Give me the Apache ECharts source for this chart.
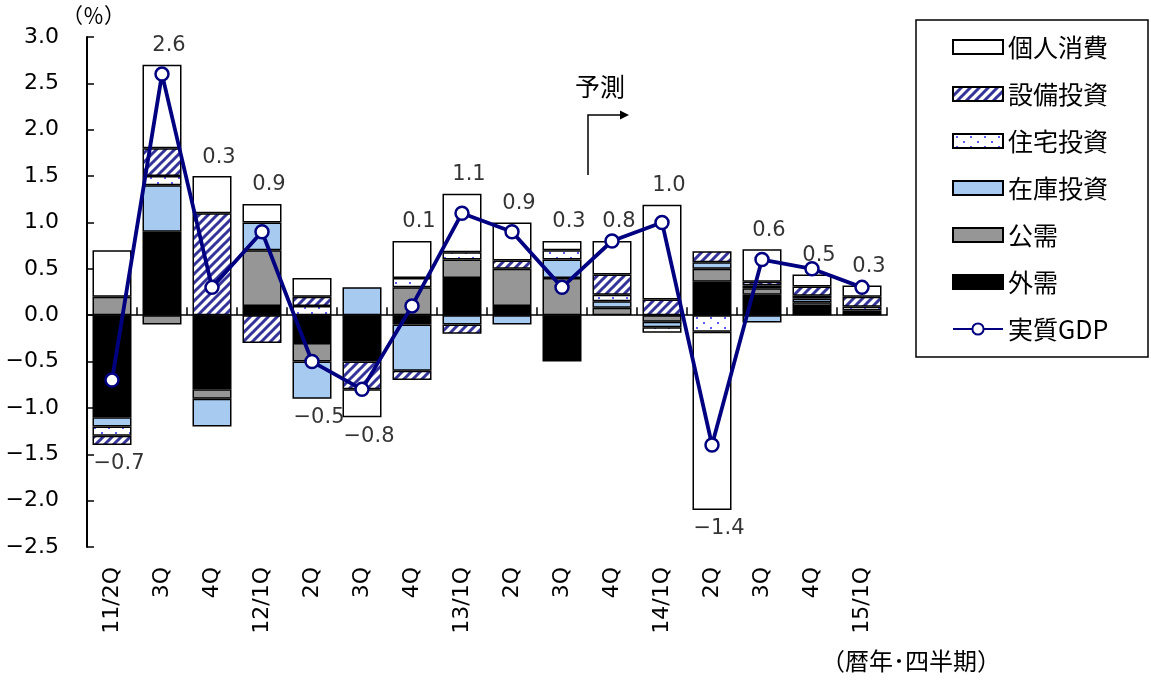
<!DOCTYPE html>
<html>
<head>
<meta charset="utf-8">
<script src="https://cdn.jsdelivr.net/npm/echarts@6/dist/echarts.min.js"></script>
<style>
  html, body { margin: 0; padding: 0; background: #fff; }
  #chart { width: 1151px; height: 681px; }
</style>
</head>
<body>
<div id="chart"></div>
<script>
// Quarter labels (calendar year / quarter)
const quarters = ['11/2Q', '3Q', '4Q', '12/1Q', '2Q', '3Q', '4Q', '13/1Q', '2Q', '3Q', '4Q', '14/1Q', '2Q', '3Q', '4Q', '15/1Q'];

// Contributions to real GDP growth (percentage points)
const consumption = [0.5, 0.9, 0.4, 0.2, 0.2, -0.3, 0.4, 0.63, 0.41, 0.1, 0.36, 1.02, -1.92, 0.35, 0.13, 0.12];
const capex       = [-0.1, 0.3, 1.1, -0.3, 0.1, -0.3, -0.1, -0.1, 0.09, 0, 0.22, 0.17, 0.12, 0.04, 0.1, 0.11];
const housing     = [-0.1, 0.1, 0, 0, 0.1, 0, 0.1, 0.08, 0, 0.1, 0.07, -0.06, -0.18, 0.03, 0.03, 0.04];
const inventory   = [-0.1, 0.5, -0.3, 0.3, -0.4, 0.3, -0.5, -0.1, -0.1, 0.2, 0.07, -0.06, 0.07, -0.08, 0.04, 0];
const publicDem   = [0.2, -0.1, -0.1, 0.6, -0.2, 0, 0.3, 0.2, 0.4, 0.4, 0.08, -0.07, 0.14, 0.07, 0.04, 0];
const externalDem = [-1.1, 0.9, -0.8, 0.1, -0.3, -0.5, -0.1, 0.4, 0.1, -0.5, 0, 0, 0.36, 0.22, 0.1, 0.05];

// Real GDP growth (quarter on quarter, %)
const realGDP = [-0.7, 2.6, 0.3, 0.9, -0.5, -0.8, 0.1, 1.1, 0.9, 0.3, 0.8, 1.0, -1.4, 0.6, 0.5, 0.3];

// Y axis range
const yMin = -2.5, yMax = 3.0, yStep = 0.5;

const FONT = "'DejaVu Sans', 'Noto Sans CJK JP', sans-serif";
const CJK = "'Noto Sans CJK JP', 'DejaVu Sans', sans-serif";
const NAVY = '#000080';

function fmt(v) {
  return (v < 0 ? '\u2212' : '') + Math.abs(v).toFixed(1);
}

// Diagonal hatch fill (///)
function hatchPattern() {
  const s = 9;
  const c = document.createElement('canvas');
  c.width = s; c.height = s;
  const g = c.getContext('2d');
  g.fillStyle = '#ffffff';
  g.fillRect(0, 0, s, s);
  g.strokeStyle = '#333399';
  g.lineWidth = 3;
  g.beginPath();
  for (let k = 0; k <= 2; k++) {
    g.moveTo(-2, k * s + 2);
    g.lineTo(k * s + 2, -2);
  }
  g.stroke();
  return { image: c, repeat: 'repeat' };
}

// Sparse dot fill
function dotPattern() {
  const w = 14, h = 10;
  const c = document.createElement('canvas');
  c.width = w; c.height = h;
  const g = c.getContext('2d');
  g.fillStyle = '#ffffff';
  g.fillRect(0, 0, w, h);
  g.fillStyle = '#5c5cf5';
  g.fillRect(3, 2, 2, 2);
  g.fillRect(10, 7, 2, 2);
  return { image: c, repeat: 'repeat' };
}

const barBorder = { borderColor: '#000', borderWidth: 1.5 };

function barSeries(name, values, fill) {
  return {
    name: name,
    type: 'bar',
    stack: 'contrib',
    barWidth: 39,
    xAxisIndex: 0,
    z: 2,
    itemStyle: Object.assign({ color: fill }, barBorder),
    emphasis: { disabled: true },
    data: values.map(v => (v === 0 ? null : v))
  };
}

// Label anchors: top of the positive stack for gains, bottom of the negative stack for falls
const components = [externalDem, publicDem, inventory, housing, capex, consumption];
const labelPoints = realGDP.map((g, i) => {
  let pos = 0, neg = 0;
  components.forEach(arr => { if (arr[i] > 0) pos += arr[i]; else neg += arr[i]; });
  const up = g >= 0;
  return {
    value: [i, up ? pos : neg],
    label: { position: up ? 'top' : 'bottom', offset: [7, up ? -3 : 3] }
  };
});

const chart = echarts.init(document.getElementById('chart'));

chart.setOption({
  animation: false,
  textStyle: { fontFamily: FONT, color: '#000' },
  grid: { left: 87, top: 37, width: 800, height: 510 },
  legend: {
    orient: 'vertical',
    left: 916,
    top: 20,
    itemWidth: 50,
    itemHeight: 14,
    itemGap: 21,
    padding: [14, 0, 0, 36],
    selectedMode: false,
    textStyle: { fontSize: 25, lineHeight: 26, color: '#000', fontFamily: CJK },
    data: [
      { name: '個人消費', icon: 'rect' },
      { name: '設備投資', icon: 'rect' },
      { name: '住宅投資', icon: 'rect' },
      { name: '在庫投資', icon: 'rect' },
      { name: '公需', icon: 'rect' },
      { name: '外需', icon: 'rect' },
      { name: '実質GDP' }
    ]
  },
  xAxis: [
    {
      type: 'category',
      data: quarters,
      boundaryGap: true,
      axisLine: { onZero: true, lineStyle: { color: '#000', width: 1.5 } },
      axisTick: { show: true, inside: true, length: 8, lineStyle: { color: '#000', width: 1.5 } },
      axisLabel: { show: false },
      splitLine: { show: false }
    },
    {
      type: 'category',
      data: quarters,
      position: 'bottom',
      boundaryGap: true,
      axisLine: { show: false, onZero: false },
      axisTick: { show: false },
      axisLabel: { rotate: 90, margin: 20, fontSize: 22, color: '#000', fontFamily: FONT },
      splitLine: { show: false }
    }
  ],
  yAxis: {
    type: 'value',
    min: yMin,
    max: yMax,
    interval: yStep,
    axisLine: { show: true, lineStyle: { color: '#000', width: 2 } },
    axisTick: { show: true, inside: true, length: 7, lineStyle: { color: '#000', width: 1.5 } },
    splitLine: { show: false },
    axisLabel: { formatter: fmt, fontSize: 22, margin: 28, color: '#000', fontFamily: FONT }
  },
  series: [
    barSeries('外需', externalDem, '#000000'),
    barSeries('公需', publicDem, '#969696'),
    barSeries('在庫投資', inventory, '#a6caf0'),
    barSeries('住宅投資', housing, dotPattern()),
    barSeries('設備投資', capex, hatchPattern()),
    barSeries('個人消費', consumption, '#ffffff'),
    {
      name: '実質GDP',
      type: 'line',
      xAxisIndex: 0,
      z: 5,
      data: realGDP,
      symbol: 'circle',
      symbolSize: 13,
      lineStyle: { color: NAVY, width: 3.8 },
      itemStyle: { color: '#ffffff', borderColor: NAVY, borderWidth: 2.5 },
      emphasis: { disabled: true }
    },
    {
      name: 'GDPラベル',
      type: 'scatter',
      xAxisIndex: 0,
      z: 6,
      symbolSize: 1,
      itemStyle: { color: 'transparent' },
      silent: true,
      data: labelPoints,
      label: {
        show: true,
        distance: 5,
        fontSize: 21,
        color: '#000',
        fontFamily: FONT,
        formatter: p => fmt(realGDP[p.dataIndex])
      }
    }
  ],
  graphic: [
    {
      type: 'rect',
      z: 0,
      shape: { x: 916, y: 20, width: 232, height: 337 },
      style: { stroke: '#000', lineWidth: 1.5, fill: null }
    },
    { type: 'text', left: 62, top: 5, style: { text: '（％）', font: '21px ' + CJK, fill: '#000' } },
    { type: 'text', left: 575, top: 74, style: { text: '予測', font: '25px ' + CJK, fill: '#000' } },
    {
      type: 'polyline',
      shape: { points: [[588, 175], [588, 115], [622, 115]] },
      style: { stroke: '#000', lineWidth: 1.5, fill: null }
    },
    {
      type: 'polygon',
      shape: { points: [[620, 110.5], [629, 115], [620, 119.5]] },
      style: { fill: '#000' }
    },
    { type: 'text', left: 821, top: 649, style: { text: '（暦年･四半期）', font: '24px ' + CJK, fill: '#000' } }
  ]
});
</script>
</body>
</html>
